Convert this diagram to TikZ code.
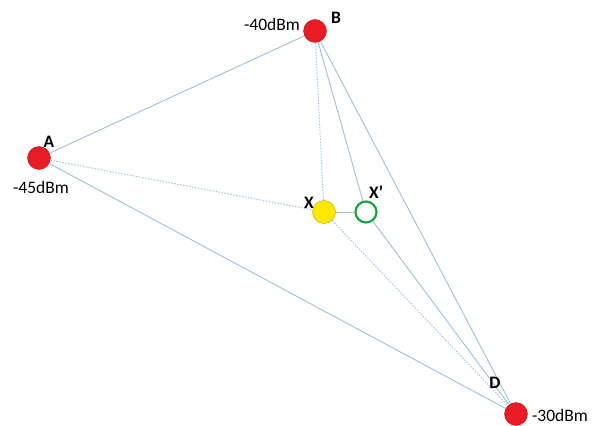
\documentclass[tikz,border=0pt]{standalone}
\usepackage{fontspec}
\setmainfont{Carlito}
\definecolor{nodered}{RGB}{232,28,36}
\definecolor{nodeyellow}{RGB}{255,232,0}
\definecolor{nodegreen}{RGB}{30,160,70}
\definecolor{linkblue}{RGB}{160,190,220}
\begin{document}
\begin{tikzpicture}[x=1pt,y=-1pt,
  anchorpt/.style={circle,fill=nodered,draw=nodered!85!black,line width=0.4pt,minimum size=23pt,inner sep=0pt},
  estpt/.style={circle,fill=nodeyellow,draw=nodeyellow!80!black,line width=0.6pt,minimum size=23pt,inner sep=0pt},
  truept/.style={circle,fill=white,draw=nodegreen,line width=2.2pt,minimum size=21pt,inner sep=0pt},
  link/.style={draw=linkblue,line width=0.9pt},
  dotlink/.style={draw=linkblue,line width=0.9pt,dash pattern=on 1.5pt off 1.5pt},
  lbl/.style={font=\fontsize{17.5}{20}\selectfont\bfseries,inner sep=0pt},
  dbm/.style={font=\fontsize{17.5}{20}\selectfont,inner sep=0pt}]
\useasboundingbox (0,0) rectangle (596,425);
\node[anchorpt] (A) at (39,158) {};
\node[anchorpt] (B) at (315,31) {};
\node[anchorpt] (D) at (516,414) {};
\node[estpt] (X) at (324,212) {};
\node[truept] (Xp) at (366,212) {};
\path[link] (A) -- (B);
\path[link] (A) -- (D);
\path[dotlink] (A) -- (X);
\path[dotlink] (B) -- (X);
\path[link] (B) -- (Xp);
\path[link] (B) -- (D);
\path[link] (X) -- (Xp);
\path[dotlink] (X) -- (D);
\path[link] (Xp) -- (D);
\node[lbl] (lA) at (49,142) {A};
\node[dbm] (dA) at (41,187) {-45dBm};
\node[lbl] (lB) at (336,18) {B};
\node[dbm] (dB) at (272,24) {-40dBm};
\node[lbl] (lD) at (495,383) {D};
\node[dbm] (dD) at (560,415) {-30dBm};
\node[lbl] (lX) at (309,203) {X};
\node[lbl] (lXp) at (376,192) {X’};
\end{tikzpicture}
\end{document}
